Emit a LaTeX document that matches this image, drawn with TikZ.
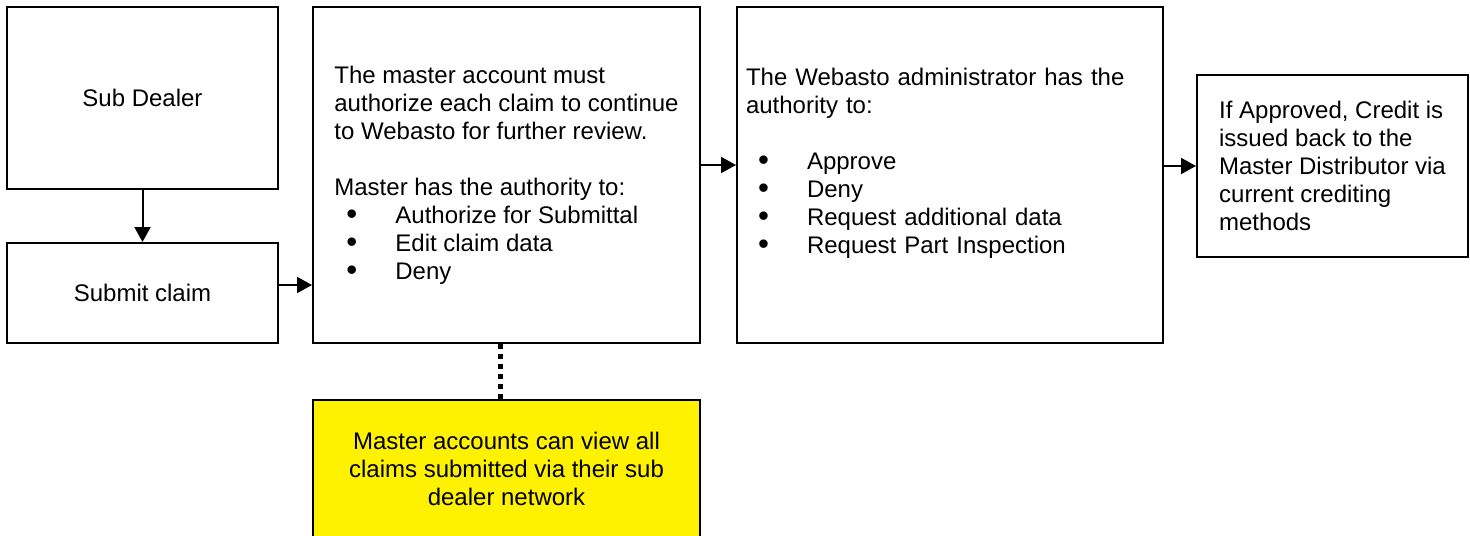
\documentclass[tikz,border=0pt]{standalone}
\usepackage{fontspec}
\setmainfont{Liberation Sans}
\usetikzlibrary{arrows.meta}
\newcommand{\bitem}[1]{\hspace*{6pt}\makebox[24.5pt][l]{\raisebox{-0.6pt}[0pt][0pt]{\scalebox{1.3}{\textbullet}}}#1}

\begin{document}
\begin{tikzpicture}[x=0.5pt,y=-0.5pt,
  box/.style={draw, line width=1pt, inner sep=0pt, font=\fontsize{12pt}{14pt}\selectfont},
  arr/.style={line width=1pt, -{Triangle[length=7.5pt,width=8pt]}},
  dotline/.style={line width=2.5pt, dash pattern=on 2.5pt off 2.5pt}]
\useasboundingbox (0,0) rectangle (1470,535);
\clip (0,0) rectangle (1470,535);

% boxes
\node[box, minimum width=135.5pt, minimum height=91pt] (dealer) at (142.5,98) {Sub Dealer};
\node[box, minimum width=135.5pt, minimum height=50pt] (submit) at (142.5,293) {Submit claim};
\node[box, minimum width=193.5pt, minimum height=168pt, align=left] (master) at (506.5,175)
  {The master account must\\
   authorize each claim to continue\\
   to Webasto for further review.\\[14pt]
   Master has the authority to:\\
   \bitem{Authorize for Submittal}\\
   \bitem{Edit claim data}\\
   \bitem{Deny}};
\node[box, minimum width=213pt, minimum height=168pt, inner xsep=4.5pt, text width=204pt, align=left] (webasto) at (950,175)
  {The Webasto administrator has the\\
   authority to:\\[14pt]
   \bitem{Approve}\\
   \bitem{Deny}\\
   \bitem{Request additional data}\\
   \bitem{Request Part Inspection}\\
   \mbox{}};
\node[box, minimum width=135.5pt, minimum height=91pt, align=left] (credit) at (1332.5,166)
  {If Approved, Credit is\\
   issued back to the\\
   Master Distributor via\\
   current crediting\\
   methods};
\node[box, fill=yellow, minimum width=193.5pt, minimum height=68.5pt, align=center] (note) at (506.5,468.5)
  {Master accounts can view all\\
   claims submitted via their sub\\
   dealer network};

% connectors
\draw[arr] (dealer.south) -- (submit.north);
\draw[arr] ([yshift=4pt]submit.east) -- ([yshift=4pt]submit.east -| master.west);
\draw[arr] ([yshift=5pt]master.east) -- ([yshift=5pt]webasto.west);
\draw[arr] (credit.west -| webasto.east) -- (credit.west);
\draw[dotline] ([xshift=-3.25pt]master.south) -- ([xshift=-3.25pt]note.north);

\end{tikzpicture}
\end{document}
